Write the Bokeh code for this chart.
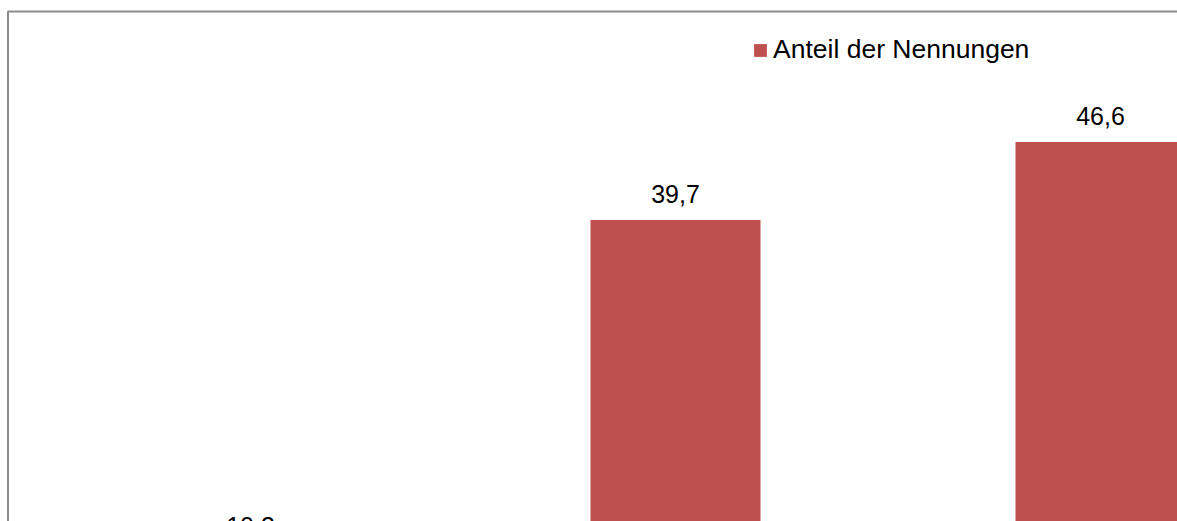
from bokeh.plotting import figure
from bokeh.models import ColumnDataSource, Range1d, LabelSet, Legend, LegendItem, BoxAnnotation
from bokeh.core.properties import value
from bokeh.embed import file_html
from bokeh.resources import INLINE

# --- data -----------------------------------------------------------------
series_name = "Anteil der Nennungen"
positions = [0, 1, 2]            # category slots (category names lie outside the visible crop)
values = [10.3, 39.7, 46.6]
labels = [f"{v:.1f}".replace(".", ",") for v in values]

BAR_COLOR = "#C0504D"
BORDER_COLOR = "#8C8C8C"
FONT = "Liberation Sans"

W, H = 1177, 521
PX_PER_CAT = 425.0
FIRST_CENTER_PX = 250.0
BASELINE_PX = 668.0
PX_PER_UNIT = 11.3

x0 = -FIRST_CENTER_PX / PX_PER_CAT
x1 = x0 + W / PX_PER_CAT
y1 = BASELINE_PX / PX_PER_UNIT
y0 = (BASELINE_PX - H) / PX_PER_UNIT

src = ColumnDataSource(dict(x=positions, top=values, label=labels))

p = figure(width=W, height=H, output_backend="svg", toolbar_location=None,
           x_range=Range1d(x0, x1), y_range=Range1d(y0, y1),
           min_border=0, min_border_left=0, min_border_right=0,
           min_border_top=0, min_border_bottom=0)
p.axis.visible = False
p.grid.visible = False
p.outline_line_color = None
p.background_fill_color = "white"
p.border_fill_color = "white"

# chart area border (only its top and left edges fall inside the crop)
p.add_layout(BoxAnnotation(left=x0 + 7.5 / PX_PER_CAT, right=x1 + 1.0,
                           top=(BASELINE_PX - 11) / PX_PER_UNIT, bottom=y0 - 10.0,
                           fill_alpha=0, line_color=BORDER_COLOR, line_alpha=1.0,
                           line_width=2, level="underlay"))

r = p.vbar(x="x", top="top", width=0.4, bottom=0, source=src,
           fill_color=BAR_COLOR, line_color=None)

p.add_layout(LabelSet(x="x", y="top", text="label", source=src,
                      text_align="center", text_baseline="alphabetic",
                      y_offset=17, text_font=value(FONT),
                      text_font_size=value("25px"),
                      text_color="black"))

legend = Legend(items=[LegendItem(label=series_name, renderers=[r])],
                location=(752, 456), orientation="horizontal",
                border_line_color=None, background_fill_alpha=0,
                padding=0, margin=0, glyph_width=16, glyph_height=16,
                label_standoff=5, label_text_font=FONT,
                label_text_font_size="26.5px", label_text_color="black")
p.add_layout(legend)

open("out.html", "w").write(file_html(p, INLINE))
